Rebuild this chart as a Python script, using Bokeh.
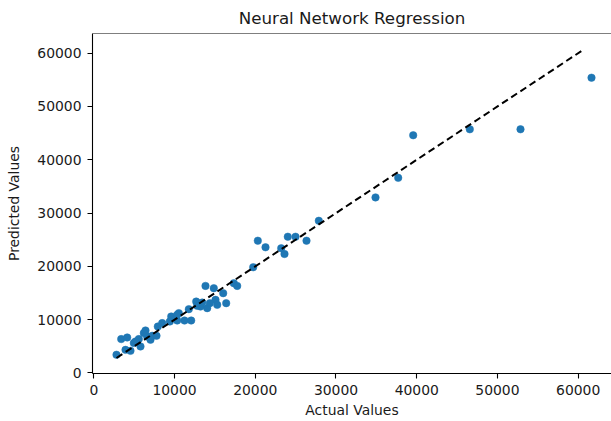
from bokeh.plotting import figure
from bokeh.models import Range1d, FixedTicker, Span
from bokeh.embed import file_html
from bokeh.resources import INLINE

# ---- data ----
actual_values = [2810, 3395, 4137, 3927, 4546, 5165, 5574, 5785, 6404, 6615,
                 7023, 7234, 7767, 7928, 9414, 9588, 10529, 11235, 12065, 11768,
                 12684, 13217, 13836, 14047, 14864, 15075, 15285, 16029, 16400, 17342,
                 17764, 19745, 20315, 21269, 23213, 23622, 24031, 24985, 26347, 27871,
                 34894, 37706, 39564, 46575, 52855, 61650,
                 10330, 8473, 14369, 12808, 13428, 4955, 6194, 10331]
predicted_values = [3425, 6363, 6663, 4341, 4154, 5914, 6363, 4978, 7973, 6850,
                    6232, 6981, 6981, 8722, 9657, 10593, 11230, 9845, 9845, 11978,
                    13401, 12465, 16339, 12165, 15909, 13720, 12784, 14973, 13101, 16844,
                    16339, 19839, 24818, 23582, 23395, 22328, 25566, 25566, 24818, 28561,
                    32940, 36609, 44600, 45723, 45723, 55400,
                    9845, 9358, 13101, 12596, 13213, 5615, 7486, 10911]
ideal_line = [2810, 60700]
tick_values = [0, 10000, 20000, 30000, 40000, 50000, 60000]

X_RANGE = (-161, 64127)
Y_RANGE = (-94, 63690)

FONT = "DejaVu Sans"
TXT = "#1a1a1a"

p = figure(frame_width=519, frame_height=340,
           x_range=Range1d(*X_RANGE), y_range=Range1d(*Y_RANGE),
           output_backend="svg", toolbar_location=None,
           min_border_left=92, min_border_right=0, min_border_top=33, min_border_bottom=0,
           title="Neural Network Regression")

p.title.align = "center"
p.title.text_font = FONT
p.title.text_font_size = "16.7px"
p.title.text_font_style = "normal"
p.title.text_color = TXT
p.title.standoff = 11

p.outline_line_color = None
p.xgrid.visible = False
p.ygrid.visible = False
p.background_fill_color = "white"
p.border_fill_color = "white"

for ax in (p.xaxis[0], p.yaxis[0]):
    ax.ticker = FixedTicker(ticks=tick_values)
    ax.minor_tick_line_color = None
    ax.major_tick_in = 0
    ax.major_tick_out = 5
    ax.major_tick_line_color = "black"
    ax.major_tick_line_width = 1.1
    ax.axis_line_color = "black"
    ax.axis_line_width = 1.1
    ax.major_label_text_font = FONT
    ax.major_label_text_font_size = "13.9px"
    ax.major_label_text_color = TXT
    ax.major_label_standoff = 6
    ax.axis_label_text_font = FONT
    ax.axis_label_text_font_size = "13.9px"
    ax.axis_label_text_font_style = "normal"
    ax.axis_label_text_color = TXT

p.xaxis.axis_label = "Actual Values"
p.yaxis.axis_label = "Predicted Values"
p.xaxis.axis_label_standoff = 4
p.yaxis.axis_label_standoff = 12

# top spine
p.add_layout(Span(location=Y_RANGE[1], dimension="width", line_color="black", line_width=1.1))

p.scatter(actual_values, predicted_values, size=7.5, fill_color="#1f77b4",
          line_color="#1f77b4", line_width=0.5)
p.line(ideal_line, ideal_line, line_color="black", line_width=2, line_dash="7 4")

open("out.html", "w").write(file_html(p, INLINE))
